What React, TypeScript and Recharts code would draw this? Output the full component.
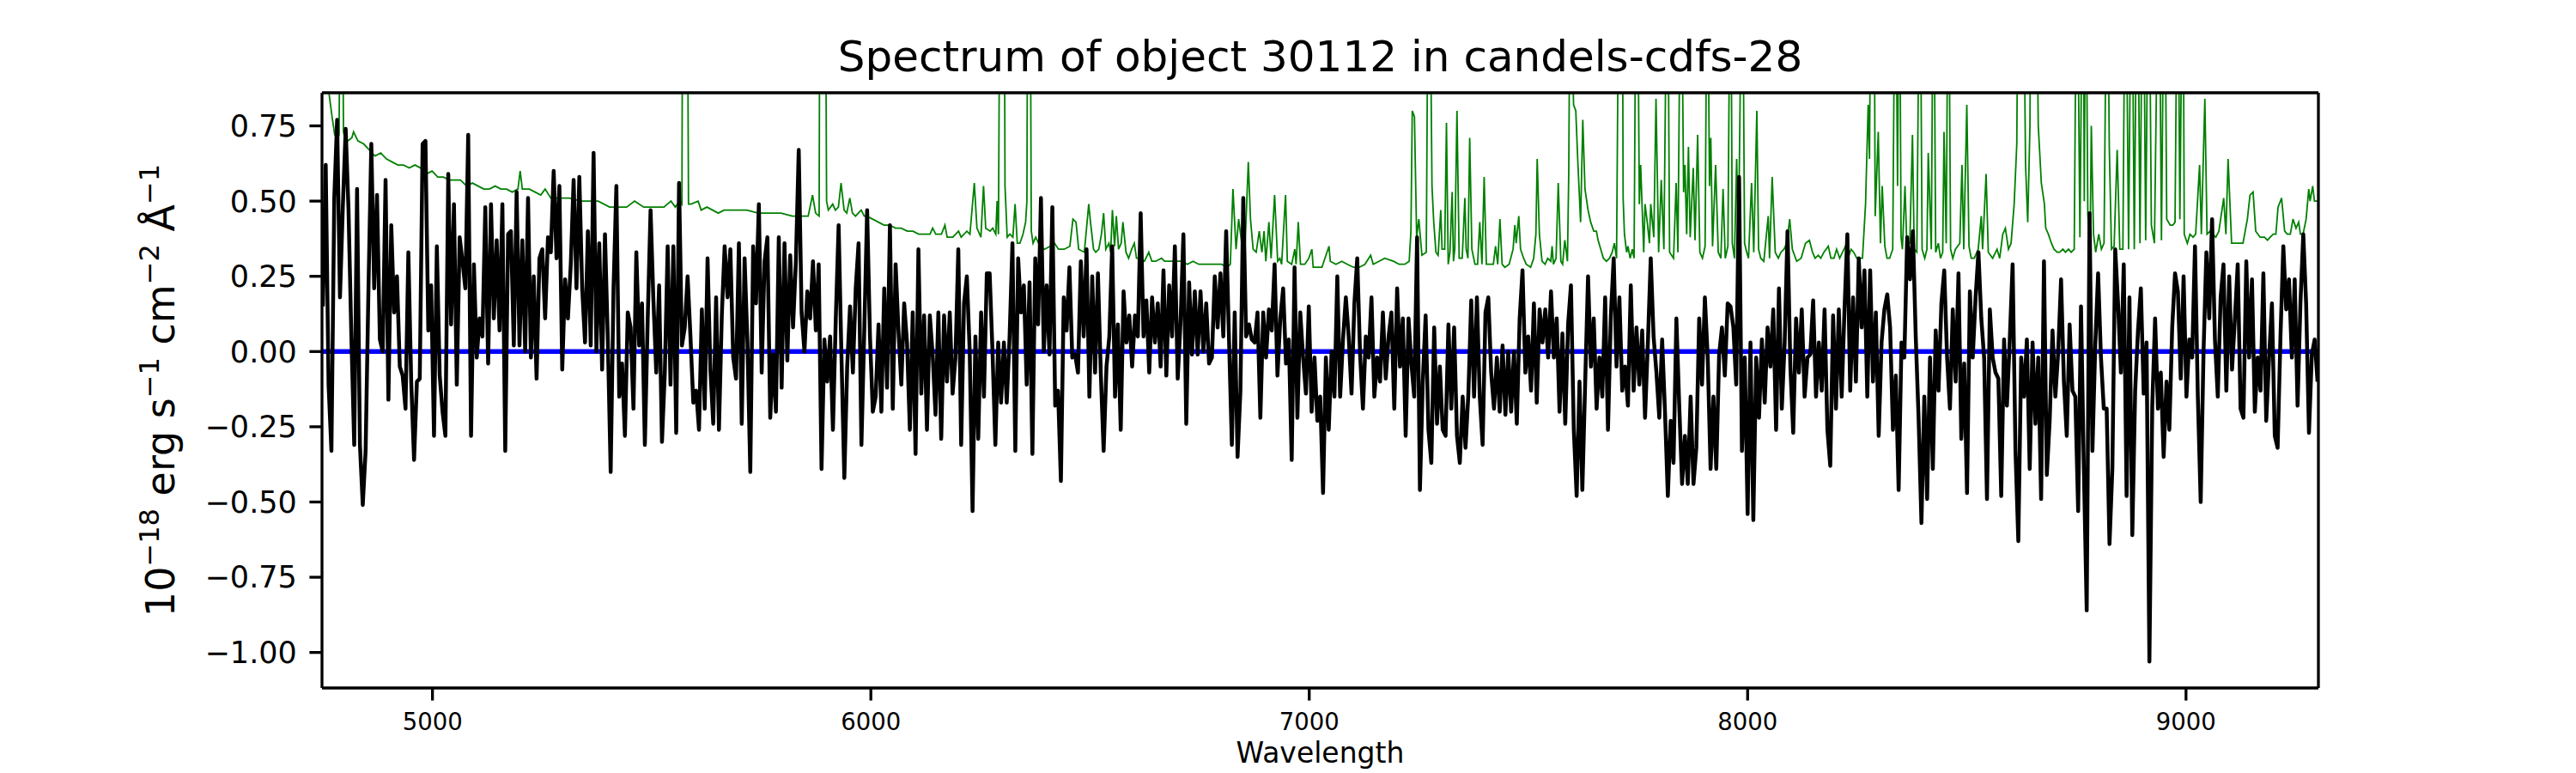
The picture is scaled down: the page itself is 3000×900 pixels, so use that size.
import React from 'react'
import { LineChart, Line, XAxis, YAxis, Label } from 'recharts'

// ── Axes / labels ─────────────────────────────────────────────────────────────
const TITLE = 'Spectrum of object 30112 in candels-cdfs-28'
const X_LABEL = 'Wavelength'
const X_TICKS = [5000, 6000, 7000, 8000, 9000]
const Y_TICKS = [-1, -0.75, -0.5, -0.25, 0, 0.25, 0.5, 0.75]
const X_RANGE: [number, number] = [4748, 9302]
const Y_RANGE: [number, number] = [-1.118, 0.86]

// Observed spectrum: evenly sampled from WAVE_START to WAVE_END
const WAVE_START = 4750
const WAVE_END = 9300

const flux4750 = [
  0.15, 0.62, -0.11, -0.33, 0.51, 0.77, 0.18, 0.48, 0.74, 0.47,
  0.05, -0.31, 0.54, -0.31, -0.51, -0.33, 0.21, 0.69, 0.21, 0.52,
  0.04, 0.00, 0.57, -0.16, 0.42, 0.13, 0.25, -0.05, -0.08, -0.19,
  0.33, -0.10, -0.36, -0.10, -0.09, 0.69, 0.70, 0.07, 0.22, -0.28,
  0.35, -0.08, -0.20, -0.28, 0.59, 0.09, 0.49, -0.11, 0.38, 0.30,
  0.21, 0.72, -0.28, 0.29, -0.02, 0.11, 0.05, 0.48, -0.04, 0.49,
  0.11, 0.37, 0.07, 0.49, -0.33, 0.39, 0.40, 0.02, 0.53, 0.02,
  0.37, 0.00, 0.51, -0.02, 0.25, -0.09, 0.31, 0.34,
]
const flux5257 = [
  0.11, 0.38, 0.33, 0.60, 0.31, 0.55, -0.06, 0.24, 0.11, 0.29,
  0.57, 0.21, 0.58, 0.21, 0.03, 0.40, 0.02, 0.66, 0.00, 0.36,
  -0.06, 0.39, 0.04, -0.40, 0.21, 0.55, -0.15, -0.04, -0.28, 0.13,
  0.08, -0.19, 0.33, 0.02, 0.16, -0.31, 0.11, 0.47, 0.17, -0.07,
  0.22, -0.30, -0.07, 0.35, -0.11, 0.35, -0.27, 0.56, 0.02, 0.08,
  0.25, 0.05, -0.17, -0.13, -0.26, 0.14, -0.19, 0.31, -0.06, -0.24,
  0.18, -0.26, 0.12, 0.35, 0.18, 0.34, -0.02, -0.09, 0.36, -0.24,
  0.31, 0.03, -0.40, 0.35, 0.16, 0.49, -0.07, 0.30,
]
const flux5764 = [
  0.38, -0.22, -0.01, -0.20, 0.38, -0.12, 0.36, -0.03, 0.32, 0.08,
  0.30, 0.67, 0.13, 0.00, 0.20, 0.11, 0.30, 0.07, 0.29, -0.39,
  0.04, -0.10, 0.05, -0.26, 0.11, 0.42, -0.02, -0.42, -0.05, 0.15,
  -0.07, 0.21, 0.36, -0.31, 0.07, 0.47, 0.05, -0.20, -0.15, 0.09,
  -0.20, 0.21, -0.12, 0.42, -0.19, 0.29, 0.07, -0.11, 0.16, 0.03,
  -0.26, 0.13, -0.34, 0.34, -0.14, 0.12, -0.26, 0.12, -0.01, -0.21,
  0.13, -0.29, 0.12, -0.10, 0.13, -0.14, -0.02, 0.34, -0.31, 0.16,
  0.25, 0.00, -0.53, 0.05, -0.29, 0.13, -0.15, 0.26,
]
const flux6271 = [
  0.26, 0.00, -0.31, 0.03, -0.17, 0.03, -0.17, 0.05, 0.36, -0.33,
  0.31, 0.13, 0.22, -0.11, 0.23, -0.34, 0.31, 0.09, 0.51, 0.00,
  0.22, -0.01, 0.48, -0.18, -0.13, -0.43, 0.18, 0.07, 0.28, -0.02,
  -0.01, -0.07, 0.30, 0.05, 0.34, -0.15, 0.25, -0.07, 0.26, -0.07,
  -0.33, -0.05, 0.05, 0.35, -0.15, 0.09, -0.26, 0.20, 0.03, 0.12,
  -0.05, 0.12, 0.05, 0.46, 0.05, 0.17, -0.07, 0.18, 0.03, 0.16,
  -0.05, 0.27, -0.08, 0.22, 0.05, 0.35, -0.09, 0.10, 0.39, -0.24,
  0.23, -0.01, 0.20, -0.01, 0.20, 0.00, 0.16, -0.04,
]
const flux6778 = [
  -0.02, 0.25, 0.08, 0.26, 0.05, 0.40, 0.04, -0.31, 0.13, -0.35,
  -0.13, 0.51, 0.05, 0.09, 0.04, 0.03, 0.13, -0.22, 0.13,
  -0.02, 0.14, 0.07, 0.29, -0.08, 0.11, 0.21, -0.04, 0.04, -0.36,
  0.28, -0.22, 0.13, -0.02, -0.14, 0.15, -0.20, -0.02, -0.23, -0.15,
  -0.47, -0.02, -0.26, 0.00, -0.15, 0.25, -0.15, 0.04, 0.18, 0.05,
  -0.14, 0.16, 0.31, -0.01, -0.19, 0.05, -0.02, 0.18, -0.15, -0.02,
  -0.10, 0.13, -0.09, 0.05, 0.13, -0.19, 0.21, -0.05, 0.11, -0.28,
  0.11, -0.04, -0.15, 0.38, -0.46, -0.10, 0.12, -0.26, -0.37,
]
const flux7285 = [
  0.08, -0.24, -0.05, -0.26, -0.28, 0.09, -0.19, 0.08, -0.28, -0.37,
  -0.15, -0.32, -0.14, 0.17, -0.15, 0.18, -0.15, -0.31, 0.13, 0.18,
  -0.07, -0.19, -0.02, -0.20, 0.02, -0.21, 0.00, -0.20, 0.00, -0.24,
  0.11, 0.27, -0.07, 0.05, -0.13, 0.16, -0.17, 0.14, 0.03, 0.14,
  -0.02, 0.20, -0.02, 0.11, -0.20, 0.06, -0.24, 0.09, 0.22, -0.26,
  -0.48, -0.10, -0.46, -0.10, 0.25, -0.05, 0.11, -0.19, -0.02, -0.15,
  0.18, -0.26, 0.12, 0.31, -0.05, 0.18, -0.13, -0.05, -0.18, 0.22,
  -0.13, 0.08, -0.11, 0.07, -0.22, 0.03, 0.31, 0.05,
]
const flux7792 = [
  -0.07, -0.22, 0.04, -0.20, -0.48, -0.23, -0.37, 0.11, -0.18, -0.44,
  -0.28, -0.44, -0.15, -0.44, -0.32, 0.11, -0.11, 0.18, -0.02,
  -0.39, -0.15, -0.39, -0.01, 0.08, -0.08, 0.16, 0.15, 0.08,
  -0.11, 0.58, -0.33, -0.02, -0.54, 0.03, -0.56, -0.02, -0.22,
  0.04, -0.17, 0.08, -0.05, 0.14, -0.26, 0.21, -0.19, 0.03, 0.40,
  -0.05, -0.27, 0.11, -0.07, 0.14, -0.15, -0.02, -0.01,
  0.17, -0.15, 0.03, -0.13, 0.14, -0.26, -0.38, 0.12, -0.19, 0.14,
  -0.15, 0.14, 0.39, -0.13, 0.18, -0.10, 0.31, 0.08, 0.27, -0.15, 0.27, -0.10, 0.13, -0.28,
]
const flux8305 = [
  0.03, 0.14, 0.19, 0.08, -0.26, -0.08, -0.46, 0.03, -0.02, 0.38,
  0.24, 0.40, 0.05, -0.22, -0.57, -0.15, -0.49, -0.02, -0.39, 0.07,
  -0.13, 0.16, 0.27, -0.02, -0.19, 0.14, -0.10, 0.26, -0.29, -0.04,
  -0.47, 0.20, -0.02, 0.18, 0.33, 0.11, -0.02, -0.49, 0.14, -0.02,
  -0.07, -0.09, -0.48, 0.04, -0.18, 0.04, 0.29, -0.33, -0.63, -0.02,
  -0.15, 0.04, -0.39, 0.03, -0.24, -0.02, -0.49, 0.30, -0.41, -0.23,
  0.07, -0.15, 0.00, 0.24, -0.10, -0.28, 0.09, -0.13, -0.15, -0.53,
  0.15, -0.39, -0.86, 0.46, -0.33, 0.02, 0.26,
]
const flux8806 = [
  -0.02, -0.19, -0.19, -0.64, -0.39, 0.34, 0.16, -0.07, 0.29, -0.48,
  0.18, -0.61, -0.13, 0.07, 0.21, -0.14, 0.03, -1.03, -0.18, 0.11,
  -0.19, -0.07, -0.35, -0.10, -0.26, 0.08, 0.26, 0.20, -0.09, 0.25,
  -0.15, 0.04, -0.02, 0.35, -0.15, -0.50, 0.00, 0.33, 0.11, 0.44,
  0.04, -0.15, 0.18, 0.29, -0.13, 0.25, -0.06, 0.11, 0.29, -0.19,
  -0.22, 0.30, -0.02, 0.24, -0.20, -0.02, -0.13, 0.26, -0.23, -0.02,
  0.16, -0.28, -0.32, 0.05, 0.35, 0.14, 0.24, -0.02, 0.24, -0.18,
  0.16, 0.39, 0.16, -0.27, -0.01, 0.04, -0.10,
]

// Noise spectrum (green): [wavelength, flux]; sky lines run off the top
const skyNoise: [number, number][] = [
  [4750, 1.05], [4762, 0.88], [4771, 0.78], [4777, 0.72], [4784, 0.71], [4787, 0.72], [4790, 1.4], [4794, 1.4],
  [4797, 0.73], [4800, 0.71], [4807, 0.70], [4816, 0.71], [4820, 0.73], [4830, 0.70], [4843, 0.69], [4856, 0.67],
  [4862, 0.66], [4869, 0.65], [4882, 0.66], [4895, 0.64], [4908, 0.63], [4921, 0.62], [4934, 0.62], [4947, 0.61],
  [4960, 0.62], [4973, 0.61], [4986, 0.59], [4999, 0.60], [5012, 0.58], [5025, 0.58], [5038, 0.57], [5051, 0.57],
  [5064, 0.57], [5078, 0.55], [5091, 0.56], [5104, 0.55], [5117, 0.54], [5130, 0.54], [5143, 0.55], [5156, 0.54],
  [5169, 0.54], [5182, 0.53], [5195, 0.54], [5200, 0.60], [5205, 0.54], [5221, 0.54], [5234, 0.53], [5247, 0.52],
  [5257, 0.54], [5270, 0.51], [5286, 0.51], [5312, 0.51], [5338, 0.50], [5352, 0.50], [5378, 0.50], [5404, 0.48],
  [5430, 0.48], [5443, 0.48], [5461, 0.50], [5482, 0.48], [5508, 0.48], [5528, 0.48], [5544, 0.50], [5554, 0.48],
  [5564, 0.50], [5569, 0.49], [5571, 1.5], [5581, 1.5], [5584, 0.49], [5590, 0.49], [5606, 0.50], [5613, 0.47],
  [5626, 0.48], [5639, 0.47], [5652, 0.46], [5665, 0.47], [5691, 0.47], [5717, 0.47], [5743, 0.46], [5766, 0.46],
  [5782, 0.46], [5795, 0.46], [5821, 0.45], [5857, 0.45], [5867, 0.52], [5874, 0.46], [5882, 0.45], [5884, 1.5],
  [5896, 1.5], [5899, 0.50], [5903, 0.47], [5913, 0.49], [5919, 0.47], [5926, 0.48], [5932, 0.56], [5939, 0.47],
  [5945, 0.46], [5952, 0.51], [5958, 0.46], [5965, 0.45], [5978, 0.47], [5985, 0.45], [5991, 0.45], [6004, 0.44],
  [6017, 0.43], [6030, 0.42], [6043, 0.42], [6056, 0.41], [6069, 0.41], [6083, 0.40], [6096, 0.40], [6109, 0.39],
  [6122, 0.39], [6135, 0.39], [6141, 0.41], [6148, 0.39], [6161, 0.39], [6169, 0.42], [6174, 0.38], [6187, 0.38],
  [6200, 0.40], [6206, 0.38], [6219, 0.40], [6226, 0.39], [6236, 0.56], [6242, 0.41], [6251, 0.38], [6257, 0.55],
  [6262, 0.41], [6272, 0.40], [6278, 0.41], [6285, 0.39], [6288, 0.50], [6291, 0.39], [6295, 1.5], [6304, 1.5],
  [6306, 0.55], [6311, 0.38], [6317, 0.39], [6324, 0.38], [6329, 0.49], [6334, 0.36], [6340, 0.36], [6347, 0.39],
  [6353, 0.43], [6356, 0.50], [6358, 1.5], [6363, 1.5], [6366, 0.40], [6370, 0.36], [6376, 0.38], [6386, 0.35],
  [6396, 0.34], [6409, 0.35], [6419, 0.36], [6428, 0.34], [6441, 0.34], [6454, 0.35], [6461, 0.44], [6468, 0.43],
  [6474, 0.34], [6487, 0.33], [6497, 0.49], [6501, 0.43], [6508, 0.34], [6513, 0.33], [6520, 0.34], [6526, 0.39],
  [6531, 0.46], [6536, 0.34], [6543, 0.36], [6547, 0.33], [6551, 0.47], [6556, 0.35], [6560, 0.45], [6565, 0.34],
  [6571, 0.36], [6575, 0.43], [6582, 0.33], [6588, 0.31], [6595, 0.34], [6601, 0.36], [6606, 0.31], [6614, 0.31],
  [6624, 0.30], [6634, 0.33], [6641, 0.30], [6650, 0.30], [6663, 0.31], [6670, 0.30], [6683, 0.30], [6696, 0.30],
  [6709, 0.30], [6722, 0.29], [6735, 0.30], [6748, 0.29], [6761, 0.29], [6774, 0.29], [6800, 0.29], [6813, 0.28],
  [6820, 0.29], [6826, 0.54], [6833, 0.34], [6839, 0.44], [6852, 0.29], [6861, 0.63], [6866, 0.44], [6872, 0.34],
  [6879, 0.33], [6886, 0.40], [6892, 0.33], [6897, 0.40], [6901, 0.30], [6908, 0.43], [6913, 0.31], [6921, 0.52],
  [6928, 0.30], [6933, 0.31], [6937, 0.29], [6946, 0.52], [6950, 0.30], [6960, 0.29], [6967, 0.34], [6970, 0.29],
  [6975, 0.43], [6980, 0.29], [6990, 0.29], [6999, 0.31], [7006, 0.34], [7009, 0.28], [7016, 0.28], [7029, 0.28],
  [7045, 0.35], [7048, 0.30], [7061, 0.29], [7074, 0.30], [7087, 0.29], [7101, 0.28], [7114, 0.28], [7127, 0.29],
  [7140, 0.32], [7146, 0.29], [7159, 0.30], [7172, 0.31], [7192, 0.30], [7205, 0.29], [7218, 0.29], [7228, 0.30],
  [7232, 0.40], [7235, 0.80], [7240, 0.78], [7245, 0.38], [7250, 0.44], [7257, 0.32], [7267, 0.33], [7272, 1.5],
  [7274, 1.5], [7280, 0.55], [7284, 0.43], [7289, 0.33], [7294, 0.32], [7300, 0.47], [7303, 0.34], [7309, 0.34],
  [7313, 0.76], [7317, 0.29], [7321, 0.33], [7326, 0.53], [7329, 0.30], [7332, 0.34], [7337, 0.80], [7342, 0.31],
  [7349, 0.31], [7355, 0.51], [7358, 0.34], [7362, 0.31], [7366, 0.71], [7371, 0.34], [7378, 0.29], [7384, 0.29],
  [7389, 0.43], [7394, 0.29], [7399, 0.58], [7404, 0.29], [7410, 0.29], [7420, 0.29], [7425, 0.35], [7430, 0.29],
  [7435, 0.44], [7440, 0.29], [7446, 0.28], [7456, 0.29], [7465, 0.34], [7469, 0.42], [7472, 0.36], [7478, 0.45],
  [7482, 0.34], [7489, 0.31], [7495, 0.29], [7505, 0.28], [7512, 0.31], [7517, 0.39], [7520, 0.64], [7525, 0.39],
  [7531, 0.30], [7538, 0.29], [7544, 0.31], [7551, 0.30], [7554, 0.35], [7557, 0.29], [7563, 0.31], [7568, 0.56],
  [7574, 0.30], [7578, 0.29], [7583, 0.37], [7589, 0.30], [7592, 0.60], [7595, 1.3], [7600, 1.0], [7603, 0.82],
  [7608, 0.80], [7613, 0.62], [7619, 0.43], [7624, 0.77], [7629, 0.54], [7636, 0.47], [7642, 0.43], [7649, 0.40],
  [7655, 0.40], [7659, 0.37], [7665, 0.34], [7671, 0.31], [7678, 0.30], [7685, 0.31], [7691, 0.33], [7696, 0.36],
  [7701, 0.31], [7707, 1.5], [7714, 1.5], [7716, 0.51], [7719, 0.39], [7724, 0.33], [7727, 0.35], [7732, 0.31],
  [7737, 0.34], [7741, 0.31], [7746, 1.5], [7748, 1.5], [7753, 0.49], [7756, 0.62], [7763, 0.33], [7766, 0.49],
  [7771, 0.43], [7776, 0.36], [7779, 0.49], [7786, 0.38], [7791, 0.84], [7797, 0.33], [7803, 0.57], [7809, 0.34],
  [7817, 1.5], [7822, 0.33], [7831, 0.31], [7837, 0.56], [7841, 0.33], [7848, 1.5], [7854, 0.53], [7857, 0.62],
  [7861, 0.39], [7865, 0.68], [7869, 0.38], [7876, 0.61], [7880, 0.37], [7886, 0.72], [7891, 0.33], [7897, 0.31],
  [7903, 0.35], [7908, 1.5], [7913, 0.55], [7916, 0.71], [7920, 0.35], [7927, 0.62], [7933, 0.33], [7939, 0.31],
  [7944, 0.54], [7949, 0.31], [7955, 0.35], [7961, 1.5], [7965, 0.36], [7970, 0.31], [7975, 0.64], [7979, 0.34],
  [7988, 1.5], [7993, 0.36], [7998, 0.33], [8002, 0.31], [8009, 0.56], [8014, 0.33], [8021, 0.80], [8025, 0.34],
  [8030, 0.31], [8037, 0.30], [8047, 0.45], [8050, 0.31], [8056, 0.58], [8063, 0.33], [8070, 0.31], [8076, 0.33],
  [8083, 0.34], [8089, 0.36], [8096, 0.44], [8102, 0.34], [8112, 0.30], [8122, 0.31], [8132, 0.36], [8141, 0.37],
  [8148, 0.33], [8154, 0.31], [8161, 0.32], [8167, 0.31], [8174, 0.33], [8184, 0.35], [8190, 0.31], [8197, 0.31],
  [8203, 0.34], [8210, 0.31], [8223, 0.35], [8229, 0.31], [8236, 0.34], [8242, 0.33], [8249, 0.31], [8262, 0.31],
  [8269, 0.49], [8275, 0.82], [8278, 0.64], [8282, 1.5], [8288, 1.5], [8291, 0.45], [8298, 0.73], [8303, 0.36],
  [8307, 0.55], [8313, 0.35], [8318, 0.31], [8324, 0.31], [8331, 0.34], [8337, 1.5], [8342, 0.55], [8346, 1.5],
  [8350, 0.38], [8353, 0.34], [8359, 0.55], [8363, 0.36], [8370, 0.36], [8376, 0.72], [8380, 0.34], [8386, 0.33],
  [8393, 1.5], [8398, 0.34], [8404, 0.31], [8409, 0.34], [8412, 0.66], [8419, 0.34], [8424, 1.5], [8429, 0.33],
  [8435, 0.36], [8440, 0.31], [8445, 0.33], [8448, 0.73], [8453, 0.36], [8458, 1.5], [8463, 0.34], [8468, 0.31],
  [8474, 0.34], [8484, 0.36], [8489, 0.62], [8493, 0.34], [8500, 0.82], [8505, 0.35], [8510, 0.31], [8517, 0.31],
  [8526, 0.34], [8533, 0.45], [8536, 0.34], [8544, 0.59], [8549, 0.33], [8559, 0.31], [8569, 0.34], [8575, 0.31],
  [8582, 0.39], [8588, 0.41], [8595, 0.34], [8601, 0.36], [8608, 0.49], [8614, 0.69], [8618, 1.5], [8628, 1.5],
  [8634, 0.62], [8639, 0.43], [8644, 0.75], [8647, 1.5], [8657, 1.5], [8663, 0.75], [8670, 0.56], [8677, 0.49],
  [8680, 0.41], [8686, 0.39], [8693, 0.36], [8699, 0.34], [8706, 0.33], [8712, 0.33], [8719, 0.34], [8725, 0.33],
  [8732, 0.34], [8738, 0.33], [8745, 0.34], [8751, 1.5], [8758, 0.38], [8765, 1.5], [8768, 0.50], [8771, 1.5],
  [8776, 0.46], [8781, 0.31], [8784, 0.75], [8789, 0.39], [8794, 0.33], [8801, 0.39], [8807, 0.34], [8813, 0.36],
  [8820, 1.5], [8825, 0.68], [8830, 0.34], [8836, 0.35], [8843, 0.67], [8849, 0.34], [8856, 0.34], [8862, 1.5],
  [8869, 0.34], [8876, 1.5], [8882, 0.34], [8889, 1.5], [8895, 0.36], [8902, 1.5], [8908, 0.37], [8915, 1.5],
  [8921, 0.42], [8928, 0.36], [8938, 1.5], [8944, 0.37], [8951, 1.5], [8956, 0.44], [8964, 0.42], [8970, 0.42],
  [8975, 0.43], [8981, 1.5], [8986, 0.44], [8993, 1.5], [8996, 0.39], [9003, 0.36], [9009, 0.39], [9016, 0.38],
  [9022, 0.39], [9031, 0.62], [9035, 0.39], [9043, 0.84], [9048, 0.39], [9055, 0.40], [9061, 0.39], [9068, 0.38],
  [9075, 0.40], [9086, 0.51], [9091, 0.39], [9096, 0.64], [9104, 0.36], [9110, 0.36], [9120, 0.36], [9130, 0.36],
  [9140, 0.44], [9146, 0.52], [9153, 0.53], [9159, 0.40], [9169, 0.38], [9179, 0.38], [9186, 0.37], [9192, 0.38],
  [9199, 0.39], [9205, 0.39], [9210, 0.48], [9218, 0.51], [9225, 0.40], [9231, 0.39], [9238, 0.39], [9244, 0.44],
  [9251, 0.41], [9257, 0.43], [9261, 0.39], [9267, 0.39], [9274, 0.44], [9280, 0.54], [9283, 0.50], [9289, 0.55],
  [9293, 0.50], [9300, 0.50],
]

const flux = [
  ...flux4750, ...flux5257, ...flux5764, ...flux6271, ...flux6778,
  ...flux7285, ...flux7792, ...flux8305, ...flux8806,
]
const waveStep = (WAVE_END - WAVE_START) / (flux.length - 1)
const spectrum = flux.map((f, i) => ({ w: WAVE_START + i * waveStep, f }))
const noise = skyNoise.map(([w, f]) => ({ w, f }))
const zeroLevel = [{ w: X_RANGE[0], f: 0 }, { w: X_RANGE[1], f: 0 }]

const FONT = 'DejaVu Sans'
const AXIS_STROKE = { stroke: '#000', strokeWidth: 3.3 }
const fmtY = (v: number) => v.toFixed(2).replace('-', '\u2212')

// mathtext-style unit label, rotated like matplotlib's ylabel
function UnitLabel() {
  const x = 203
  const y = 454.5
  const sup = { fontSize: 32 }
  return (
    <text
      x={x}
      y={y}
      transform={`rotate(-90, ${x}, ${y})`}
      textAnchor="middle"
      fontFamily={FONT}
      fontSize={46}
      fill="#000"
    >
      <tspan>10</tspan>
      <tspan {...sup} dy={-18}>{'\u221218'}</tspan>
      <tspan dy={18}> erg s</tspan>
      <tspan {...sup} dy={-18}>{'\u22121'}</tspan>
      <tspan dy={18}> cm</tspan>
      <tspan {...sup} dy={-18}>{'\u22122'}</tspan>
      <tspan dy={18}> Å</tspan>
      <tspan {...sup} dy={-18}>{'\u22121'}</tspan>
    </text>
  )
}

export default function App() {
  return (
    <div style={{ position: 'absolute', left: 0, top: 0, width: 3000, height: 900, background: '#fff' }}>
      <LineChart width={3000} height={900} margin={{ top: 107, right: 299, bottom: 0, left: 175 }}>
        <XAxis
          dataKey="w"
          type="number"
          domain={X_RANGE}
          ticks={X_TICKS}
          interval={0}
          allowDataOverflow
          height={99}
          tick={{ fontSize: 27.5, fill: '#000', fontFamily: FONT }}
          tickSize={14.6}
          tickMargin={14.6}
          axisLine={AXIS_STROKE}
          tickLine={AXIS_STROKE}
        >
          <Label value={X_LABEL} position="insideBottom" offset={12} fontSize={33} fill="#000" fontFamily={FONT} />
        </XAxis>
        <XAxis
          xAxisId="top"
          orientation="top"
          dataKey="w"
          type="number"
          domain={X_RANGE}
          allowDataOverflow
          height={1}
          tick={false}
          tickLine={false}
          axisLine={AXIS_STROKE}
        >
          <Label value={TITLE} position="top" offset={24} fontSize={50} fill="#000" fontFamily={FONT} />
        </XAxis>
        <YAxis
          type="number"
          domain={Y_RANGE}
          ticks={Y_TICKS}
          interval={0}
          allowDataOverflow
          width={200}
          tickFormatter={fmtY}
          tick={{ fontSize: 35, fill: '#000', fontFamily: FONT }}
          tickSize={14.6}
          tickMargin={14.6}
          axisLine={AXIS_STROKE}
          tickLine={AXIS_STROKE}
        >
          <Label content={UnitLabel} />
        </YAxis>
        <YAxis
          yAxisId="right"
          orientation="right"
          type="number"
          domain={Y_RANGE}
          allowDataOverflow
          width={1}
          tick={false}
          tickLine={false}
          axisLine={AXIS_STROKE}
        />
        <Line
          data={noise}
          dataKey="f"
          type="linear"
          stroke="#008000"
          strokeWidth={1.8}
          dot={false}
          activeDot={false}
          isAnimationActive={false}
        />
        <Line
          data={zeroLevel}
          dataKey="f"
          type="linear"
          stroke="#0000ff"
          strokeWidth={5.5}
          dot={false}
          activeDot={false}
          isAnimationActive={false}
        />
        <Line
          data={spectrum}
          dataKey="f"
          type="linear"
          stroke="#000"
          strokeWidth={4.5}
          strokeLinejoin="round"
          dot={false}
          activeDot={false}
          isAnimationActive={false}
        />
      </LineChart>
    </div>
  )
}
